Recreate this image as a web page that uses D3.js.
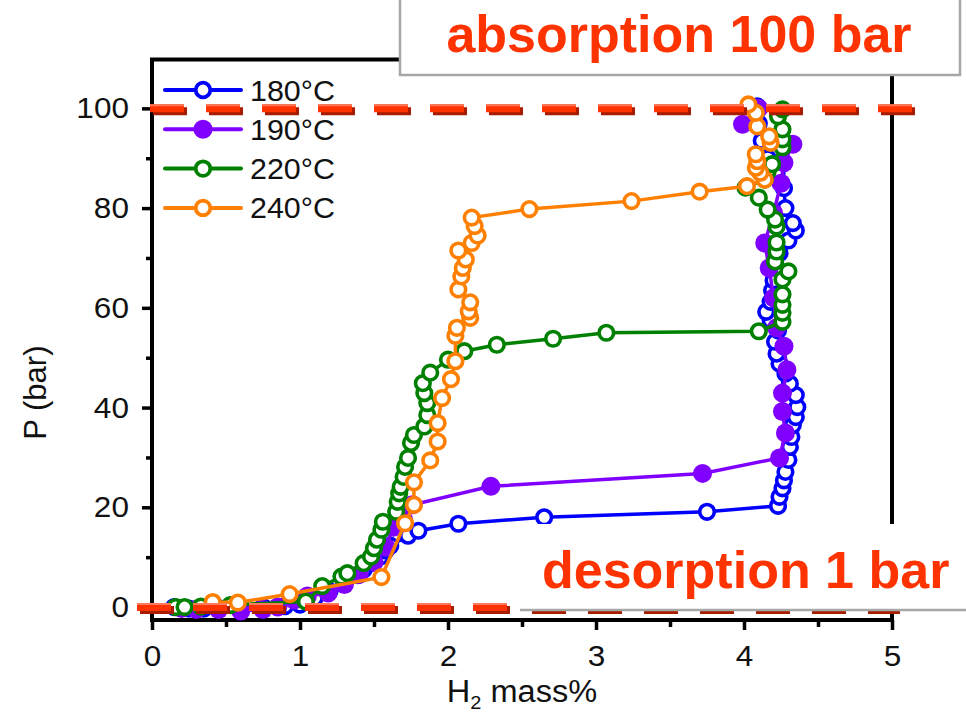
<!DOCTYPE html>
<html>
<head>
<meta charset="utf-8">
<script src="https://cdn.jsdelivr.net/npm/d3@7"></script>
<style>
  body { margin: 0; background: #fff; }
  svg { display: block; font-family: "Liberation Sans", Arial, sans-serif; }
</style>
</head>
<body>
<svg id="chart" width="966" height="717"></svg>
<script>
let mass180 = [0.15, 0.25, 0.35, 0.45, 0.6, 0.75, 0.9, 1.0, 1.1, 1.2, 1.3, 1.39, 1.43, 1.48, 1.55, 1.58, 1.61, 1.73, 1.80, 2.07, 2.65, 3.75, 4.23,
  4.24, 4.26, 4.27, 4.28, 4.30, 4.31, 4.32, 4.33, 4.35, 4.36, 4.35, 4.31, 4.28, 4.24, 4.22, 4.21, 4.23, 4.18, 4.15, 4.18, 4.19, 4.20,
  4.22, 4.24, 4.30, 4.35, 4.33, 4.28, 4.27, 4.22, 4.16, 4.12, 4.10, 4.09];
let p180 = [0, -0.3, -0.3, -0.2, -0.2, 0, 0.2, 0.5, 1.8, 3.2, 4.8, 6.4, 7.5, 8.8, 10.2, 11.3, 12.3, 14.3, 15.3, 16.7, 18.0, 19.1, 20.3,
  22.1, 23.8, 25.4, 27.1, 29.5, 32.1, 34.1, 36.5, 38.1, 40.1, 42.5, 44.8, 46.8, 48.8, 50.8, 53.2, 55.5, 57.5, 59.2, 61.2, 63.5, 65.5,
  68.0, 71.0, 73.5, 75.5, 77.0, 80.0, 84.0, 87.0, 90.0, 93.5, 97.0, 100.4];

let mass190 = [0.2, 0.3, 0.45, 0.6, 0.75, 0.85, 0.96, 1.05, 1.19, 1.3, 1.4, 1.5, 1.58, 1.63, 1.70, 1.76, 2.29, 3.72, 4.24,
  4.28, 4.26, 4.26, 4.29, 4.27, 4.22, 4.20, 4.17, 4.14, 4.20, 4.25, 4.27, 4.33, 3.99, 4.10];
let p190 = [-0.3, -0.5, -0.5, -0.8, -0.5, 0, 1.4, 2.2, 2.8, 4.5, 6.5, 9.0, 12.0, 16.0, 17.5, 20.5, 24.2, 26.8, 29.9,
  34.9, 39.2, 42.9, 47.6, 52.3, 56.0, 62.0, 68.0, 73.0, 79.0, 85.0, 89.1, 92.8, 96.8, 100.0];

let mass220 = [0.16, 0.22, 0.33, 0.53, 1.04, 1.15, 1.28, 1.32, 1.43, 1.48, 1.50, 1.52, 1.55, 1.56, 1.65, 1.66, 1.67, 1.68, 1.70, 1.71,
  1.73, 1.75, 1.77, 1.84, 1.86, 1.86, 1.84, 1.83, 1.88, 2.0, 2.11, 2.33, 2.71, 3.07, 4.10,
  4.26, 4.26, 4.26, 4.26, 4.26, 4.30, 4.21, 4.22, 4.22, 4.22, 4.21, 4.16, 4.10, 4.01, 4.14, 4.16, 4.19, 4.26, 4.26, 4.26, 4.23, 4.26];
let p220 = [0, 0, 0.1, 0.4, 1.1, 4.2, 6.1, 6.8, 8.8, 10.1, 11.8, 13.5, 15.5, 17.1, 19.1, 21.1, 22.8, 24.1, 26.1, 28.1,
  29.9, 32.9, 34.5, 36.2, 38.5, 40.9, 42.9, 44.9, 47.0, 49.6, 51.3, 52.6, 53.8, 55.0, 55.3,
  57.2, 59.0, 60.6, 62.7, 65.7, 67.3, 69.3, 71.3, 73.1, 76.3, 77.7, 79.7, 82.1, 84.1, 85.7, 87.4, 88.8, 92.2, 93.8, 95.8, 98.4, 99.8];

let mass240 = [0.41, 0.58, 0.93, 1.55, 1.71, 1.77, 1.77, 1.88, 1.93, 1.93, 1.96, 2.02, 2.05, 2.05, 2.06, 2.15, 2.14, 2.15, 2.07, 2.09,
  2.10, 2.12, 2.07, 2.16, 2.20, 2.18, 2.16, 2.55, 3.24, 3.70, 4.02, 4.14, 4.11, 4.08, 4.09, 4.08, 4.18, 4.17, 4.09, 4.08, 4.03];
let p240 = [1.0, 0.9, 2.6, 6.0, 16.8, 20.5, 25.0, 29.4, 33.2, 36.9, 41.9, 45.7, 49.3, 54.4, 56.0, 58.0, 59.3, 61.1, 63.7, 66.3,
  68.0, 69.7, 71.5, 73.0, 74.5, 76.4, 78.1, 79.8, 81.4, 83.3, 84.4, 85.7, 87.1, 88.1, 89.4, 90.8, 93.1, 94.4, 96.4, 99.1, 100.8];

let seriesNames = ["180\u00B0C", "190\u00B0C", "220\u00B0C", "240\u00B0C"];
let seriesColors = ["#0000ff", "#8000ff", "#008000", "#ff8000"];
let seriesFilled = [false, true, false, false];

let xTicks = [0, 1, 2, 3, 4, 5];
let xMinor = [0.5, 1.5, 2.5, 3.5, 4.5];
let yTicks = [0, 20, 40, 60, 80, 100];
let yMinor = [10, 30, 50, 70, 90];

let refPressures = [100, 0];
let noteTexts = ["absorption 100 bar", "desorption 1 bar"];

let series = [
  { name: seriesNames[0], color: seriesColors[0], filled: seriesFilled[0], pts: mass180.map((m, i) => ({ m: m, p: p180[i] })) },
  { name: seriesNames[1], color: seriesColors[1], filled: seriesFilled[1], pts: mass190.map((m, i) => ({ m: m, p: p190[i] })) },
  { name: seriesNames[2], color: seriesColors[2], filled: seriesFilled[2], pts: mass220.map((m, i) => ({ m: m, p: p220[i] })) },
  { name: seriesNames[3], color: seriesColors[3], filled: seriesFilled[3], pts: mass240.map((m, i) => ({ m: m, p: p240[i] })) }
];

let svg = d3.select("#chart");

let xScale = d3.scaleLinear().domain([0, 5]).range([152, 892]);
let yScale = d3.scaleLinear().domain([-2.6, 109.8]).range([620, 59.5]);

let stretch = "scale(1.05,1)";   // the original plot is a bit wider than plain Arial

// frame
svg.append("rect")
  .attr("x", xScale(0))
  .attr("y", yScale(109.8))
  .attr("width", xScale(5) - xScale(0))
  .attr("height", yScale(-2.6) - yScale(109.8))
  .style("fill", "none")
  .style("stroke", "#000")
  .style("stroke-width", 4);

// axes
let xAxis = d3.axisBottom(xScale).tickValues(xTicks).tickSize(10).tickSizeOuter(0).tickPadding(15).tickFormat(d3.format("d"));
let xAxisMinor = d3.axisBottom(xScale).tickValues(xMinor).tickSize(7).tickSizeOuter(0).tickFormat("");
let yAxis = d3.axisLeft(yScale).tickValues(yTicks).tickSize(10).tickSizeOuter(0).tickPadding(12).tickFormat(d3.format("d"));
let yAxisMinor = d3.axisLeft(yScale).tickValues(yMinor).tickSize(6).tickSizeOuter(0).tickFormat("");

function styleAxis(g) {
  g.select(".domain").remove();
  g.selectAll("line").style("stroke", "#000").style("stroke-width", 3.5);
  g.selectAll("text")
    .style("font-family", "'Liberation Sans', Arial, sans-serif")
    .style("font-size", "30px")
    .style("fill", "#111")
    .attr("transform", stretch);
}

svg.append("g").attr("transform", "translate(0," + yScale(-2.6) + ")").call(xAxis).call(styleAxis);
svg.append("g").attr("transform", "translate(0," + yScale(-2.6) + ")").call(xAxisMinor).call(styleAxis);
svg.append("g").attr("transform", "translate(" + xScale(0) + ",0)").call(yAxis).call(styleAxis);
svg.append("g").attr("transform", "translate(" + xScale(0) + ",0)").call(yAxisMinor).call(styleAxis);

// axis titles
let xTitle = svg.append("g")
  .attr("transform", "translate(" + xScale(2.5) + ",702) " + stretch)
  .append("text")
  .attr("text-anchor", "middle")
  .style("font-size", "31px")
  .style("fill", "#111");
xTitle.append("tspan").text("H");
xTitle.append("tspan").attr("dy", 7).style("font-size", "19px").text("2");
xTitle.append("tspan").attr("dy", -7).text(" mass%");

svg.append("g")
  .attr("transform", "translate(46," + yScale(43) + ") rotate(-90)")
  .append("text")
  .attr("text-anchor", "middle")
  .style("font-size", "31px")
  .style("fill", "#111")
  .text("P (bar)");

// data
let line = d3.line()
  .x(function(d) { return xScale(d.m); })
  .y(function(d) { return yScale(d.p); });

series.forEach(function(s) {
  let g = svg.append("g");
  g.append("path")
    .attr("d", line(s.pts))
    .style("fill", "none")
    .style("stroke", s.color)
    .style("stroke-width", 3.5);
  g.selectAll("circle")
    .data(s.pts)
    .enter()
    .append("circle")
    .attr("cx", function(d) { return xScale(d.m); })
    .attr("cy", function(d) { return yScale(d.p); })
    .attr("r", s.filled ? 9.5 : 7.3)
    .style("fill", s.filled ? s.color : "#fff")
    .style("stroke", s.filled ? "none" : s.color)
    .style("stroke-width", 3.6);
});

// legend
let legend = svg.append("g");
series.forEach(function(s, i) {
  let y = 90 + i * 39.3;
  legend.append("line")
    .attr("x1", 165).attr("x2", 241)
    .attr("y1", y).attr("y2", y)
    .style("stroke", s.color)
    .style("stroke-width", 4)
    .style("stroke-linecap", "round");
  legend.append("circle")
    .attr("cx", 203).attr("cy", y)
    .attr("r", s.filled ? 9.5 : 7.3)
    .style("fill", s.filled ? s.color : "#fff")
    .style("stroke", s.filled ? "none" : s.color)
    .style("stroke-width", 3.8);
  legend.append("g")
    .attr("transform", "translate(250," + (y + 10.5) + ") " + stretch)
    .append("text")
    .style("font-size", "29px")
    .style("fill", "#111")
    .text(s.name);
});

// dashed reference lines at 100 bar and 0 bar
let refStart = [xScale(0) - 2, xScale(0) - 15];
let refEnd = [xScale(5) + 20, xScale(5) + 5];
let refs = svg.append("g");
refPressures.forEach(function(p, i) {
  let y = yScale(p);
  refs.append("line")
    .attr("x1", refStart[i] + 3).attr("x2", refEnd[i] + 3)
    .attr("y1", y + 3).attr("y2", y + 3)
    .style("stroke", "#a81c00")
    .style("stroke-width", 8)
    .style("stroke-dasharray", "34,22");
  refs.append("line")
    .attr("x1", refStart[i]).attr("x2", refEnd[i])
    .attr("y1", y).attr("y2", y)
    .style("stroke", "#ff3300")
    .style("stroke-width", 8)
    .style("stroke-dasharray", "34,22");
  refs.append("line")
    .attr("x1", refStart[i]).attr("x2", refEnd[i])
    .attr("y1", y - 3).attr("y2", y - 3)
    .style("stroke", "#ff7a5c")
    .style("stroke-width", 2)
    .style("stroke-dasharray", "34,22");
});

// annotation boxes
svg.append("rect")
  .attr("x", 400).attr("y", -4)
  .attr("width", 560).attr("height", 79)
  .style("fill", "#fff")
  .style("stroke", "#a6a6a6")
  .style("stroke-width", 2.5);
svg.append("text")
  .attr("x", 679).attr("y", 52)
  .attr("text-anchor", "middle")
  .style("font-size", "52px")
  .style("font-weight", "bold")
  .style("fill", "#ff3300")
  .text(noteTexts[0]);

svg.append("rect")
  .attr("x", 520).attr("y", 524)
  .attr("width", 446).attr("height", 86)
  .style("fill", "#fff");
svg.append("line")
  .attr("x1", 520).attr("x2", 966)
  .attr("y1", 610).attr("y2", 610)
  .style("stroke", "#a6a6a6")
  .style("stroke-width", 2.5);
svg.append("text")
  .attr("x", 542).attr("y", 588)
  .style("font-size", "52px")
  .style("font-weight", "bold")
  .style("fill", "#ff3300")
  .text(noteTexts[1]);
</script>
</body>
</html>
